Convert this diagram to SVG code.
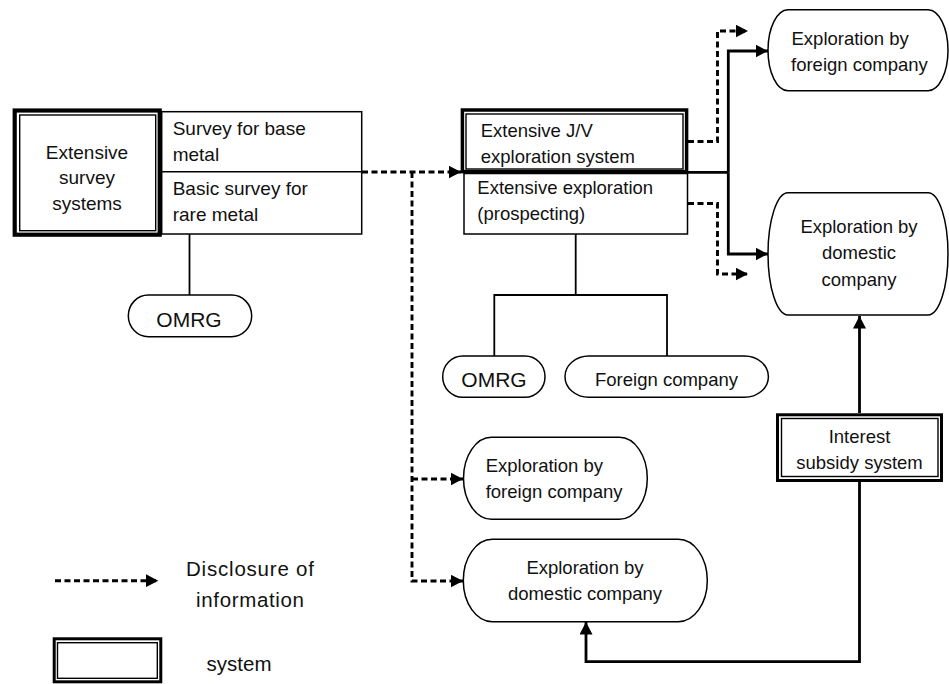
<svg xmlns="http://www.w3.org/2000/svg" width="949" height="684" viewBox="0 0 949 684">
  <style>
    text { font-family: "Liberation Sans", Arial, sans-serif; font-size: 18.5px; fill: #111; }
    .mid { text-anchor: middle; }
    .big { font-size: 21px; }
    .leg { font-size: 20.5px; }
    .box { fill: #fff; stroke: #000; stroke-width: 1.5; }
    .thick { fill: #fff; stroke: #000; stroke-width: 3.5; }
    .inner { fill: none; stroke: #000; stroke-width: 1.4; }
    .pill { fill: #fff; stroke: #000; stroke-width: 1.5; }
    .link { fill: none; stroke: #000; stroke-width: 1.8; }
    .solid { fill: none; stroke: #000; stroke-width: 2.8; }
    .dash { fill: none; stroke: #000; stroke-width: 2.9; stroke-dasharray: 6 3.5; }
  </style>
  <defs>
    <marker id="arrow" markerUnits="userSpaceOnUse" markerWidth="13" markerHeight="13" refX="12.5" refY="6.5" orient="auto">
      <path d="M0,0 L12.5,6.5 L0,13 Z" fill="#000"/>
    </marker>
  </defs>

  <!-- connectors -->
  <g id="connectors">
    <!-- disclosure of information (dashed) -->
    <path class="dash" d="M362,172 H461" marker-end="url(#arrow)"/>
    <path class="dash" d="M412,172 V581 H463" marker-end="url(#arrow)"/>
    <path class="dash" d="M412,479 H463" marker-end="url(#arrow)"/>
    <path class="dash" d="M688,141.5 H717.5 V31 H748" marker-end="url(#arrow)"/>
    <path class="dash" d="M688,203.5 H717.5 V274 H748" marker-end="url(#arrow)"/>
    <!-- J/V exploration to companies -->
    <path class="solid" d="M688,172.3 H728.3"/>
    <path class="solid" d="M728.3,172.3 V51 H768" marker-end="url(#arrow)"/>
    <path class="solid" d="M728.3,172.3 V254 H768" marker-end="url(#arrow)"/>
    <!-- interest subsidy -->
    <path class="solid" d="M859.5,413 V316" marker-end="url(#arrow)"/>
    <path class="solid" d="M859.5,482 V661.7 H586 V622" marker-end="url(#arrow)"/>
    <!-- executing bodies -->
    <path class="link" d="M189.5,234 V295"/>
    <path class="link" d="M575.7,234 V295 M494.3,295 H667 M494.3,294 V356 M667,294 V356"/>
  </g>

  <!-- extensive survey systems -->
  <g id="survey-systems">
    <rect class="thick" x="14.7" y="110.5" width="145" height="124.2" style="stroke-width:4.2"/>
    <rect class="inner" x="19.7" y="115" width="136" height="115.7"/>
    <text class="mid" x="87" y="158.5" style="font-size:19px">Extensive</text>
    <text class="mid" x="87" y="184" style="font-size:19px">survey</text>
    <text class="mid" x="87" y="210" style="font-size:19px">systems</text>
  </g>

  <g id="survey-items">
    <rect class="box" x="161.7" y="111.7" width="200" height="122.3"/>
    <line x1="161.7" y1="171.7" x2="361.7" y2="171.7" stroke="#000" stroke-width="1.5"/>
    <text x="172.7" y="134.7" style="font-size:19px">Survey for base</text>
    <text x="172.7" y="160.7" style="font-size:19px">metal</text>
    <text x="172.7" y="195" style="font-size:19px">Basic survey for</text>
    <text x="172.7" y="220.7" style="font-size:19px">rare metal</text>
  </g>

  <g id="omrg-1">
    <path class="pill" d="M148.3,295 H231.7 A20 20.85 0 0 1 231.7,336.7 H148.3 A20 20.85 0 0 1 148.3,295 Z"/>
    <text class="mid big" x="189" y="326.7">OMRG</text>
  </g>

  <!-- J/V exploration -->
  <g id="jv-system">
    <rect class="thick" x="462.4" y="110" width="224.2" height="61.6"/>
    <rect class="inner" x="466" y="114" width="217" height="55"/>
    <text x="480.7" y="137">Extensive J/V</text>
    <text x="480.7" y="163">exploration system</text>
  </g>

  <g id="extensive-exploration">
    <rect class="box" x="464" y="173.5" width="223.5" height="60.5"/>
    <text x="477.3" y="194">Extensive exploration</text>
    <text x="477.3" y="219.5">(prospecting)</text>
  </g>

  <g id="omrg-2">
    <path class="pill" d="M462.7,356 H525 A20 20.65 0 0 1 525,397.3 H462.7 A20 20.65 0 0 1 462.7,356 Z"/>
    <text class="mid big" x="494" y="387.3">OMRG</text>
  </g>

  <g id="foreign-company">
    <path class="pill" d="M589,356 H744.4 A24 20.65 0 0 1 744.4,397.3 H589 A24 20.65 0 0 1 589,356 Z"/>
    <text class="mid" x="666.5" y="385.5">Foreign company</text>
  </g>

  <!-- exploration by companies -->
  <g id="foreign-exploration-top">
    <path class="pill" d="M788,9.7 H928 A20 40.5 0 0 1 928,90.7 H788 A20 40.5 0 0 1 788,9.7 Z"/>
    <text x="791.5" y="45">Exploration by</text>
    <text x="791" y="70.5">foreign company</text>
  </g>

  <g id="domestic-exploration-top">
    <path class="pill" d="M788,192.7 H928 A20 61.15 0 0 1 928,315 H788 A20 61.15 0 0 1 788,192.7 Z"/>
    <text class="mid" x="859" y="233">Exploration by</text>
    <text class="mid" x="859" y="259.3">domestic</text>
    <text class="mid" x="859" y="285.5">company</text>
  </g>

  <g id="foreign-exploration-bottom">
    <path class="pill" d="M491.5,437.3 H619.3 A28 41 0 0 1 619.3,519.3 H491.5 A28 41 0 0 1 491.5,437.3 Z"/>
    <text x="485.7" y="471.7">Exploration by</text>
    <text x="485.7" y="497.8">foreign company</text>
  </g>

  <g id="domestic-exploration-bottom">
    <path class="pill" d="M492.3,539.3 H678.3 A29 41.2 0 0 1 678.3,621.7 H492.3 A29 41.2 0 0 1 492.3,539.3 Z"/>
    <text class="mid" x="585" y="574">Exploration by</text>
    <text class="mid" x="585" y="600">domestic company</text>
  </g>

  <g id="interest-subsidy">
    <rect class="thick" x="777.5" y="414.8" width="164" height="65.7" style="stroke-width:3"/>
    <rect class="inner" x="781.5" y="418.5" width="156.5" height="58"/>
    <text class="mid" x="859.5" y="443">Interest</text>
    <text class="mid" x="859.5" y="469">subsidy system</text>
  </g>

  <!-- legend -->
  <g id="legend">
    <path class="dash" d="M55,580.7 H158.3" marker-end="url(#arrow)"/>
    <text class="mid leg" x="250" y="576" textLength="128" lengthAdjust="spacing">Disclosure of</text>
    <text class="mid leg" x="250" y="606.5" textLength="108" lengthAdjust="spacing">information</text>
    <rect class="thick" x="54.2" y="638.8" width="106.6" height="43" style="stroke-width:3"/>
    <rect class="inner" x="57.5" y="642.7" width="99.8" height="35.6"/>
    <text class="mid leg" x="239" y="671">system</text>
  </g>
</svg>
